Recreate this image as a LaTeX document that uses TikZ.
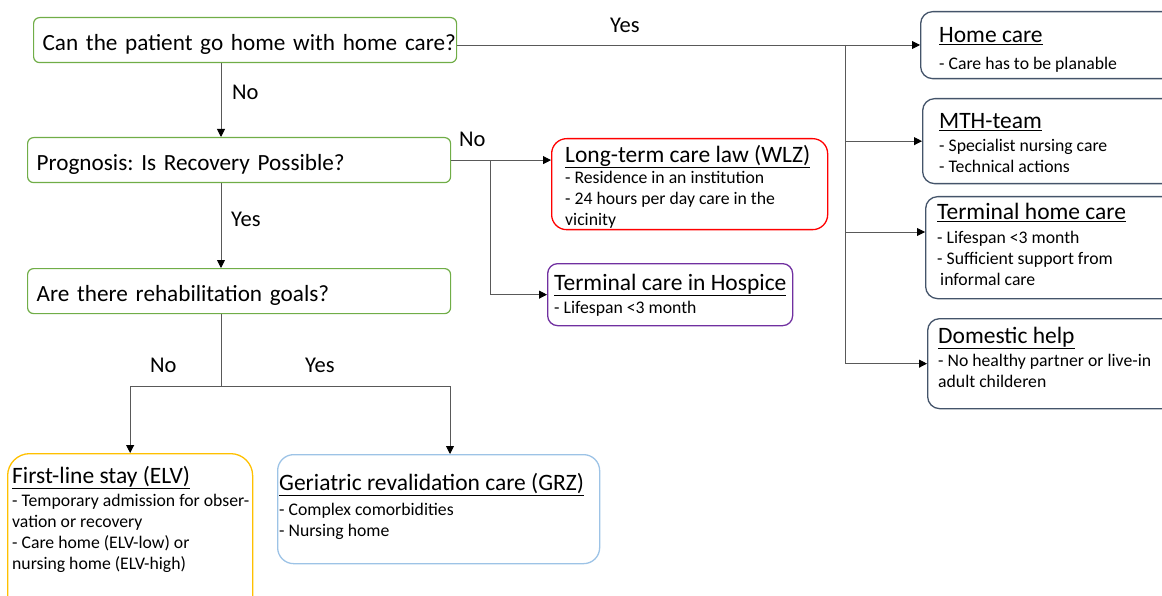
\documentclass[tikz,border=0pt]{standalone}
\usepackage{fontspec}
\setmainfont{Carlito}
\usetikzlibrary{arrows.meta}
\definecolor{qgreen}{HTML}{70AD47}
\definecolor{slate}{HTML}{44546A}
\definecolor{wlzred}{HTML}{FF0000}
\definecolor{hospurple}{HTML}{7030A0}
\definecolor{elvyellow}{HTML}{FFC000}
\definecolor{grzblue}{HTML}{9DC3E6}
\frenchspacing
\newcommand{\qfont}{\fontsize{23.2}{28}\selectfont}
\newcommand{\lblfont}{\fontsize{22.5}{27}\selectfont}
\newcommand{\bodyfont}{\fontsize{17.7}{21}\selectfont}
\newcommand{\ttl}[1]{\rule{0pt}{19pt}{\fontsize{23.5}{28}\selectfont\underline{#1}}}
\begin{document}
\begin{tikzpicture}[x=1pt,y=-1pt,
    question/.style={draw=qgreen, line width=1.2pt, rounded corners=6pt, anchor=north west,
      inner xsep=9pt, inner ysep=0pt, text width=405pt, align=left,
      text height=33pt, text depth=12pt, font=\qfont},
    box/.style={anchor=north west, inner sep=0pt, line width=1.3pt, rounded corners=12pt},
    txt/.style={anchor=north west, inner sep=0pt, align=left, font=\bodyfont},
    lbl/.style={anchor=base west, inner sep=0pt, font=\lblfont},
    wire/.style={draw=black!65, line width=0.9pt},
    conn/.style={wire, -{Triangle[length=8pt,width=8pt,color=black]}}]
  \useasboundingbox (0,0) rectangle (1162,596);

  % questions
  \node[question] (q1) at (33,17) {\mbox{Can the patient go home with home care?}};
  \node[question] (q2) at (27,137) {Prognosis: Is Recovery Possible?};
  \node[question] (q3) at (27,268) {Are there rehabilitation goals?};

  % outcomes
  \node[box, draw=slate, minimum width=260pt, minimum height=67pt] (home) at (920,11) {};
  \node[box, draw=slate, minimum width=260pt, minimum height=85pt] (mth) at (922,98) {};
  \node[box, draw=slate, minimum width=260pt, minimum height=102pt] (thc) at (925,196) {};
  \node[box, draw=slate, minimum width=260pt, minimum height=90pt] (dom) at (927,318) {};
  \node[box, draw=wlzred, rounded corners=15pt, minimum width=276pt, minimum height=91pt] (wlz) at (551,138) {};
  \node[box, draw=hospurple, rounded corners=10pt, minimum width=245pt, minimum height=62pt] (hosp) at (547,263) {};
  \node[box, draw=elvyellow, rounded corners=22pt, minimum width=245pt, minimum height=170pt] (elv) at (7,453) {};
  \node[box, draw=grzblue, rounded corners=16pt, minimum width=322pt, minimum height=109pt] (grz) at (277,454) {};

  \node[txt] (home-txt) at (939,23) {\ttl{Home care}\\[6pt]%
    - Care has to be planable};
  \node[txt] (mth-txt) at (939,109) {\ttl{MTH-team}\\[2pt]%
    - Specialist nursing care\\ - Technical actions};
  \node[txt] (thc-txt) at (937,200) {\ttl{Terminal home care}\\[3pt]%
    - Lifespan <3 month\\ - Sufficient support from\\ \hspace*{3pt}informal care};
  \node[txt] (dom-txt) at (938,324) {\ttl{Domestic help}\\[2pt]%
    - No healthy partner or live-in\\ adult childeren};
  \node[txt] (wlz-txt) at (565,143) {\ttl{Long-term care law (WLZ)}\\[0pt]%
    - Residence in an institution\\ - 24 hours per day care in the\\ vicinity};
  \node[txt] (hosp-txt) at (554,271) {\ttl{Terminal care in Hospice}\\[2pt]%
    - Lifespan <3 month};
  \node[txt] (elv-txt) at (12,464) {\ttl{First-line stay (ELV)}\\[2pt]%
    - Temporary admission for obser-\\ vation or recovery\\
    - Care home (ELV-low) or\\ nursing home (ELV-high)};
  \node[txt] (grz-txt) at (279,471) {\ttl{Geriatric revalidation care (GRZ)}\\[4pt]%
    - Complex comorbidities\\ - Nursing home};

  % connectors
  \coordinate (yesfork) at (845,45);
  \coordinate (spine) at (221,0);
  \coordinate (nofork) at (490,0);
  \coordinate (split) at (221,386);
  \coordinate (grz-in) at (450,0);
  \coordinate (thc-in) at (0,232);
  \draw[conn] (q1.east |- yesfork) -- (home.west |- yesfork);
  \draw[wire] (yesfork) -- (yesfork |- dom.west);
  \draw[conn] (yesfork |- mth.west) -- (mth.west);
  \draw[conn] (yesfork |- thc-in) -- (thc.west |- thc-in);
  \draw[conn] (yesfork |- dom.west) -- (dom.west);
  \draw[conn] (q1.south -| spine) -- (q2.north -| spine);
  \draw[conn] (q2.south -| spine) -- (q3.north -| spine);
  \draw[conn] (q2.east) -- (wlz.west |- q2.east);
  \draw[conn] (q2.east -| nofork) |- (hosp.west);
  \draw[wire] (q3.south -| spine) -- (split);
  \draw[conn] (split) -| (elv.north);
  \draw[conn] (split) -| (grz.north -| grz-in);

  % labels
  \node[lbl] (yes1) at (610,33) {Yes};
  \node[lbl] (no1) at (232,100) {No};
  \node[lbl] (no2) at (459,147) {No};
  \node[lbl] (yes2) at (231,227) {Yes};
  \node[lbl] (no3) at (150,372) {No};
  \node[lbl] (yes3) at (305,372) {Yes};
\end{tikzpicture}
\end{document}
